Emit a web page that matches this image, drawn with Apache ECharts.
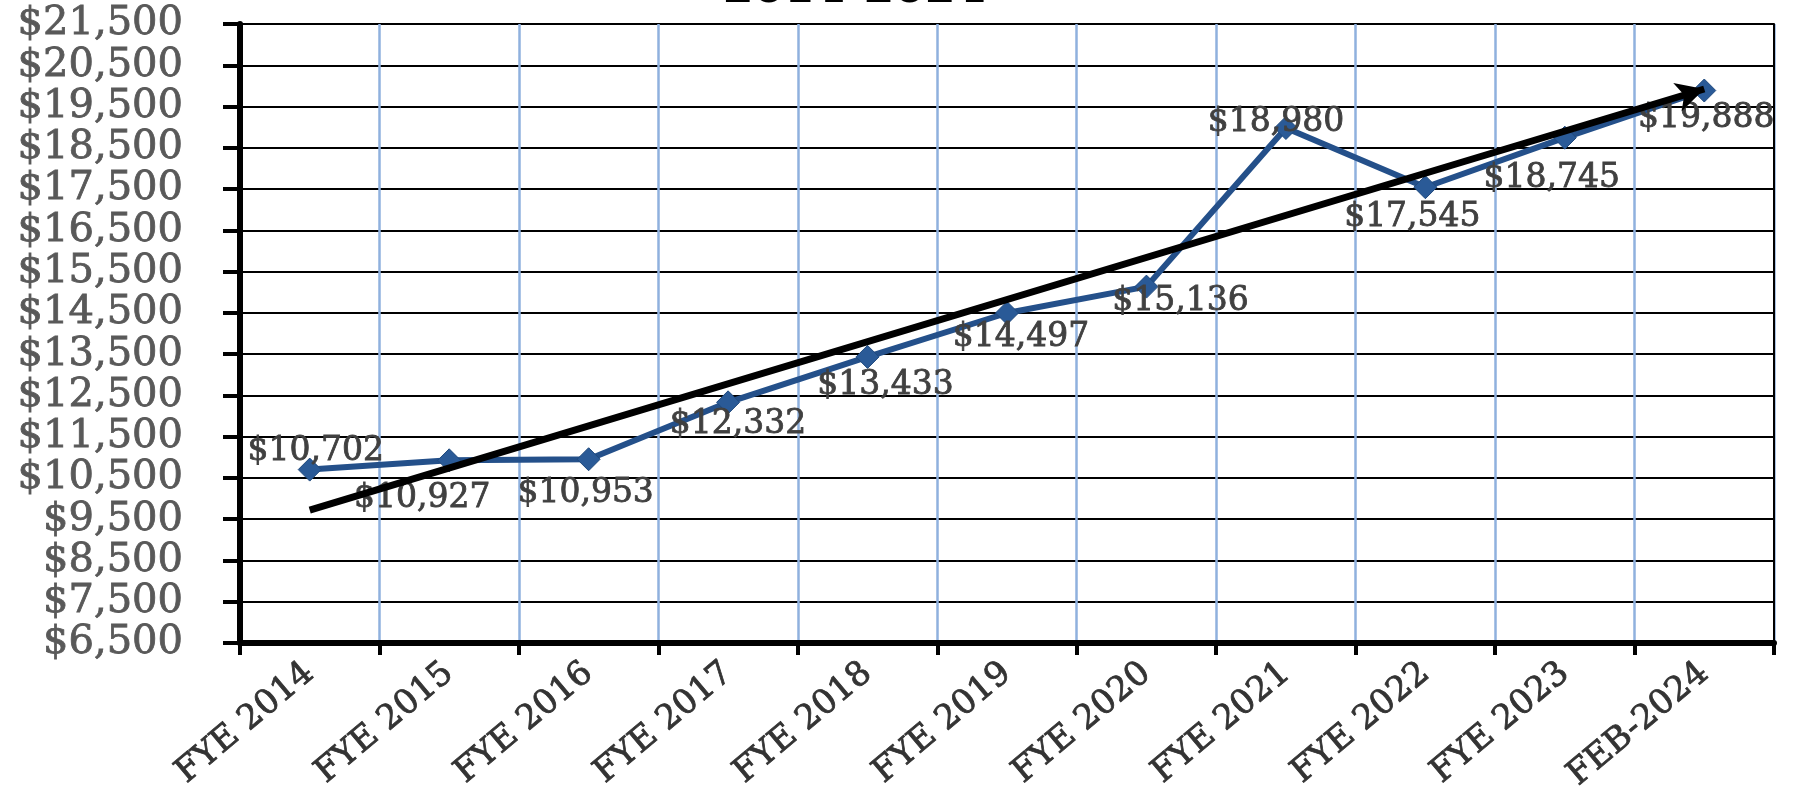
<!DOCTYPE html>
<html><head><meta charset="utf-8">
<script src="https://cdn.jsdelivr.net/npm/echarts@6/dist/echarts.min.js"></script>
<style>html,body{margin:0;padding:0;background:#fff}#c{width:1794px;height:799px}</style>
</head><body><div id="c"></div>
<script>
const categories = ['FYE 2014','FYE 2015','FYE 2016','FYE 2017','FYE 2018','FYE 2019','FYE 2020','FYE 2021','FYE 2022','FYE 2023','FEB-2024'];
const values = [10702,10927,10953,12332,13433,14497,15136,18980,17545,18745,19888];
const trendStart = 9720;
const trendEnd = 19925;
const yMin = 6500, yMax = 21500, yStep = 1000;
const titleText = '2014-2024';

const labelOffsets = [[6,-18],[-27,38],[-3,34],[10,22],[18,29],[14,24],[34,15],[-10,-6],[-13,30],[-13,41],[2,28]];
const serif = '"DejaVu Serif", "Liberation Serif", serif';
const fmt = v => '$' + v.toLocaleString('en-US');

const chart = echarts.init(document.getElementById('c'), null, {renderer:'canvas'});
chart.setOption({
  animation: false,
  backgroundColor: '#fff',
  graphic: [{
    type: 'text', x: 723, y: 13, z: 100,
    style: { text: titleText, font: 'bold 44px ' + serif, fill: '#000', verticalAlign: 'bottom' }
  }],
  grid: { left: 240, right: 20, top: 24, bottom: 156, containLabel: false },
  xAxis: {
    type: 'category', data: categories, boundaryGap: true,
    axisLine: { lineStyle: { color: '#000', width: 6 } },
    axisTick: { show: true, length: 12, lineStyle: { color: '#000', width: 4 } },
    axisLabel: { rotate: 40, margin: 26, fontFamily: serif, fontSize: 34, color: '#333',
                 textBorderColor: '#333', textBorderWidth: 0.8 },
    splitLine: { show: true, lineStyle: { color: '#8fb1de', width: 2.5 } }
  },
  yAxis: [{
    type: 'value', min: yMin, max: yMax, interval: yStep,
    axisLine: { show: true, lineStyle: { color: '#000', width: 6 } },
    axisTick: { show: true, length: 17, lineStyle: { color: '#000', width: 4 } },
    axisLabel: { margin: 57, fontFamily: serif, fontSize: 40, color: '#595959',
                 textBorderColor: '#595959', textBorderWidth: 0.8, formatter: fmt },
    splitLine: { show: true, lineStyle: { color: '#000', width: 2 } }
  }, {
    type: 'value', min: yMin, max: yMax, interval: yStep, position: 'right',
    axisLine: { show: true, lineStyle: { color: '#000', width: 2 } },
    axisTick: { show: false }, axisLabel: { show: false }, splitLine: { show: false }
  }],
  series: [{
    type: 'line', yAxisIndex: 0, z: 3,
    data: values.map((v, i) => ({ value: v, label: { offset: labelOffsets[i] } })),
    symbol: 'diamond', symbolSize: 23,
    itemStyle: { color: '#2a5a97', borderColor: '#1f497d', borderWidth: 1 },
    lineStyle: { color: '#24508a', width: 6 },
    label: { show: true, position: 'inside', fontFamily: serif, fontSize: 33, color: '#404040',
             textBorderColor: '#404040', textBorderWidth: 0.8, formatter: p => fmt(p.value) }
  }, {
    type: 'line', yAxisIndex: 0, z: 4, data: [],
    markLine: {
      silent: true, animation: false,
      symbol: ['none', 'arrow'], symbolSize: [22, 28],
      lineStyle: { color: '#000', width: 7, type: 'solid' },
      label: { show: false },
      data: [[{ coord: [0, trendStart] }, { coord: [categories.length - 1, trendEnd] }]]
    }
  }]
});
</script></body></html>
